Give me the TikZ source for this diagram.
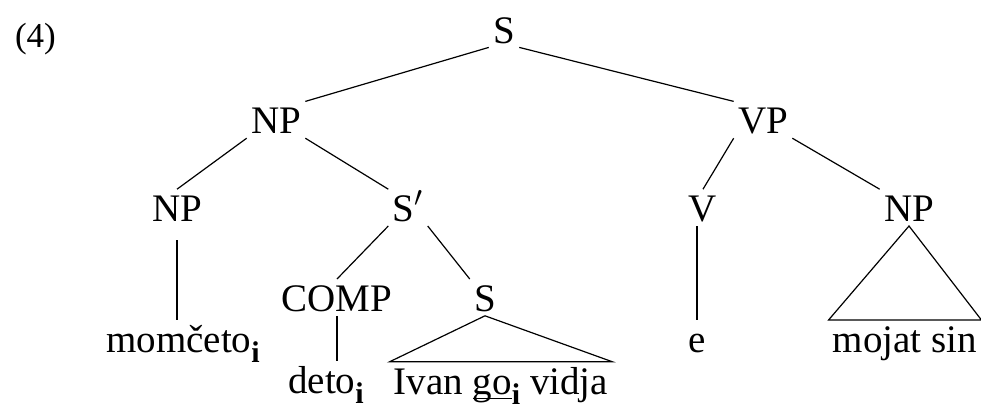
\documentclass[tikz,border=0pt]{standalone}
\usepackage{fontspec}
\setmainfont{Liberation Serif}
\usetikzlibrary{positioning}

\newcommand\indx{\raisebox{-5pt}{\fontsize{15}{15}\selectfont\bfseries i}}
\newcommand\undl[1]{\setbox0\hbox{#1}\rlap{\rule[-2.5pt]{\wd0}{0.6pt}}#1}

\begin{document}
\begin{tikzpicture}[
        every node/.style={font=\fontsize{19.5}{23}\selectfont},
        cat/.style={inner sep=2pt, text height=14pt, text depth=0pt},
        edge/.style={line width=0.6pt}
    ]

    \useasboundingbox (0,0) rectangle (490.5pt,-204.5pt);

    \node[anchor=base west, font=\fontsize{17.5}{20}\selectfont] (ex) at (4pt,-23.5pt) {(4)};

    \node[cat, anchor=base] (S) at (252pt,-21.5pt) {S};
    \node[cat, below=27pt of S, xshift=-114pt] (NP) {NP};
    \node[cat, below=27pt of S, xshift=129.5pt] (VP) {VP};

    \node[cat, below=25.5pt of NP, xshift=-49.5pt] (NPl) {NP};
    \node[cat, below=25.5pt of NP, xshift=66pt] (Sbar) {S$'$};
    \node[cat, below=25.5pt of VP, xshift=-30pt] (V) {V};
    \node[cat, below=25.5pt of VP, xshift=73pt] (NPr) {NP};

    \node[cat, below=26.5pt of Sbar, xshift=-35.5pt] (COMP) {COMP};
    \node[cat, below=26.5pt of Sbar, xshift=38.5pt] (Sl) {S};

    \node[cat, below=47pt of NPl, xshift=3pt] (mom) {momčeto\indx};
    \node[cat, below=47pt of V, xshift=-3pt] (e) {e};
    \node[cat, below=47pt of NPr, xshift=-2pt] (mojat) {mojat sin};

    \node[cat, below=22.5pt of COMP, xshift=-5.5pt] (deto) {deto\indx};
    \node[cat, below=23pt of Sl, xshift=8pt] (ivan) {Ivan \undl{go}\indx{} vidja};

    \draw[edge] (S.south west) -- (NP.north east);
    \draw[edge] (S.south east) -- (VP.north west);

    \draw[edge] (NP.south west) -- (NPl.north);
    \draw[edge] (NP.south east) -- (Sbar.north west);
    \draw[edge] (VP.south west) -- (V.north);
    \draw[edge] (VP.south east) -- (NPr.north west);

    \draw[edge] (Sbar.south west) -- (COMP.north);
    \draw[edge] (Sbar.south east) -- (Sl.north west);

    \draw[edge, shorten <=7pt] (NPl.south) -- (NPl.south |- mom.north);
    \draw[edge] (e.north |- V.south) -- (e.north);
    \draw[edge] (COMP.south) -- (COMP.south |- deto.north);

    \draw[edge] (Sl.south) -- (ivan.north west) -- (ivan.north east) -- cycle;
    \draw[edge] (NPr.south) -- (mojat.north west) -- (mojat.north east) -- cycle;

\end{tikzpicture}
\end{document}
